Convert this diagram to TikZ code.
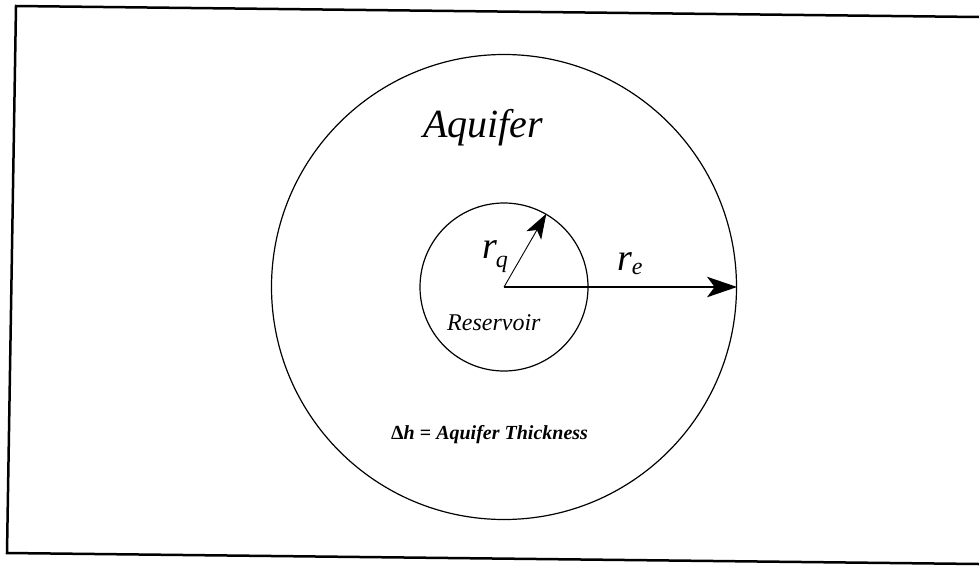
\documentclass[tikz,border=0pt]{standalone}
\usepackage{fontspec}
\setmainfont{Liberation Serif}
\usetikzlibrary{arrows.meta}

\begin{document}
\begin{tikzpicture}[x=1pt,y=-1pt,
    ring/.style={draw, circle, line width=1.2pt, inner sep=0pt},
    lbl/.style={inner sep=0pt, anchor=base west, font=\itshape},
    radius arrow/.style={-{Stealth[length=#1,width=0.68*#1,inset=0.25*#1]}}]
    \useasboundingbox (0,0) rectangle (979,565);
    % Frame (open on the right)
    \draw[line width=2.5pt] (979,17) -- (16,6) -- (7,553) -- (979,564);

    % Aquifer and reservoir
    \coordinate (c) at (504,287);
    \node[ring, minimum size=465pt] (aquifer) at (c) {};
    \node[ring, minimum size=168pt] (reservoir) at (c) {};

    % Radii
    \draw[line width=1.8pt, radius arrow=30pt] (c) -- (aquifer.east);
    \draw[line width=0.9pt, radius arrow=25pt] (c) -- (reservoir.60);

    % Labels
    \node[lbl, font=\itshape\fontsize{40}{42}\selectfont] (aqlabel) at (423,137) {Aquifer};
    \node[lbl, font=\itshape\fontsize{38}{40}\selectfont] (rq) at (482,258) {r\kern-1pt\raisebox{-0.25em}{\fontsize{24}{24}\selectfont q}};
    \node[lbl, font=\itshape\fontsize{38}{40}\selectfont] (re) at (617,270) {r\raisebox{-0.12em}{\fontsize{24}{24}\selectfont e}};
    \node[lbl, font=\itshape\fontsize{24}{26}\selectfont] (reslabel) at (447,330) {Reservoir};
    \node[lbl, font=\bfseries\fontsize{20}{22}\selectfont] (thick) at (391,439) {Δ\textit{h} = \textit{Aquifer Thickness}};
\end{tikzpicture}
\end{document}
